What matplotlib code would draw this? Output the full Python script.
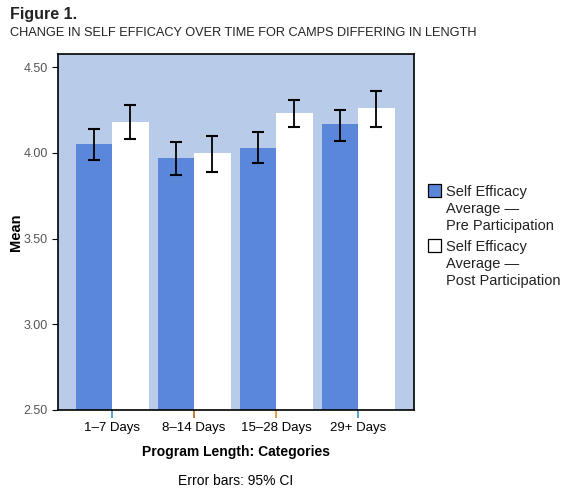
import numpy as np
import matplotlib.pyplot as plt
from matplotlib.patches import Rectangle

# Datos
categorias = ["1\u20137 Days", "8\u201314 Days", "15\u201328 Days", "29+ Days"]
media_pre = [4.05, 3.97, 4.03, 4.17]
media_post = [4.18, 4.00, 4.23, 4.26]
ic_pre_bajo = [3.96, 3.87, 3.94, 4.07]
ic_pre_alto = [4.14, 4.06, 4.12, 4.25]
ic_post_bajo = [4.08, 3.89, 4.15, 4.15]
ic_post_alto = [4.28, 4.10, 4.31, 4.36]
colores_tick = ["#3a8fd0", "#b5651d", "#e08a1e", "#3a8fd0"]
etiquetas = ["Self Efficacy\nAverage \u2014\nPre Participation",
             "Self Efficacy\nAverage \u2014\nPost Participation"]
colores_serie = ["#5b87db", "white"]

plt.rcParams['font.family'] = ['Liberation Sans', 'DejaVu Sans']

fig = plt.figure(figsize=(5.74, 5.0), dpi=100)
ax = fig.add_axes([58 / 574, 1 - 410 / 500, 356 / 574, 356 / 500])
ax.set_facecolor("#b8cbe9")

x = np.arange(len(categorias))
ancho = 0.445
ax.bar(x - ancho / 2, media_pre, ancho, color=colores_serie[0], zorder=2)
ax.bar(x + ancho / 2, media_post, ancho, color=colores_serie[1], zorder=2)

err_pre = [np.array(media_pre) - np.array(ic_pre_bajo), np.array(ic_pre_alto) - np.array(media_pre)]
err_post = [np.array(media_post) - np.array(ic_post_bajo), np.array(ic_post_alto) - np.array(media_post)]
ax.errorbar(x - ancho / 2, media_pre, yerr=err_pre, fmt="none", ecolor="black",
            elinewidth=1.3, capsize=4.5, capthick=1.5, zorder=3)
ax.errorbar(x + ancho / 2, media_post, yerr=err_post, fmt="none", ecolor="black",
            elinewidth=1.3, capsize=4.5, capthick=1.5, zorder=3)

ax.set_ylim(2.5, 4.576)
ax.set_xlim(-0.66, 3.68)
ax.set_yticks([2.5, 3.0, 3.5, 4.0, 4.5])
ax.set_yticklabels(["2.50", "3.00", "3.50", "4.00", "4.50"])
ax.tick_params(axis="y", colors="black", labelcolor="#555555", labelsize=9, length=4, width=0.8)
ax.set_xticks(x)
ax.set_xticklabels(categorias, fontsize=9.5)
ax.tick_params(axis="x", length=6, width=1.2, pad=3)
for tick, c in zip(ax.xaxis.get_major_ticks(), colores_tick):
    tick.tick1line.set_markeredgecolor(c)

for s in ax.spines.values():
    s.set_linewidth(1.2)

ax.set_ylabel("Mean", fontsize=10.5, fontweight="bold")
ax.yaxis.set_label_coords(-35 / 356, 0.5)
ax.set_xlabel("Program Length: Categories", fontsize=10, fontweight="bold")
ax.xaxis.set_label_coords(0.5, -35 / 356)

fig.text(10 / 574, 1 - 14 / 500, "Figure 1.", fontsize=11.5, fontweight="bold", va="center", color="#222222")
fig.text(10 / 574, 1 - 33 / 500, "CHANGE IN SELF EFFICACY OVER TIME FOR CAMPS DIFFERING IN LENGTH",
         fontsize=9.2, va="center", color="#222222")
fig.text(236 / 574, 1 - 481 / 500, "Error bars: 95% CI", fontsize=10, ha="center", va="center")

# Leyenda manual con el cuadro alineado arriba
for i, (etq, col) in enumerate(zip(etiquetas, colores_serie)):
    y0 = 184 + i * 55
    fig.patches.append(Rectangle((428 / 574, 1 - (y0 + 13) / 500), 13 / 574, 13 / 500,
                                 transform=fig.transFigure, facecolor=col,
                                 edgecolor="black", linewidth=0.9))
    fig.text(446 / 574, 1 - (y0 + 1) / 500, etq, fontsize=10.5, va="top", ha="left",
             linespacing=1.28, color="#222222")

plt.savefig("out.png", dpi=100)
